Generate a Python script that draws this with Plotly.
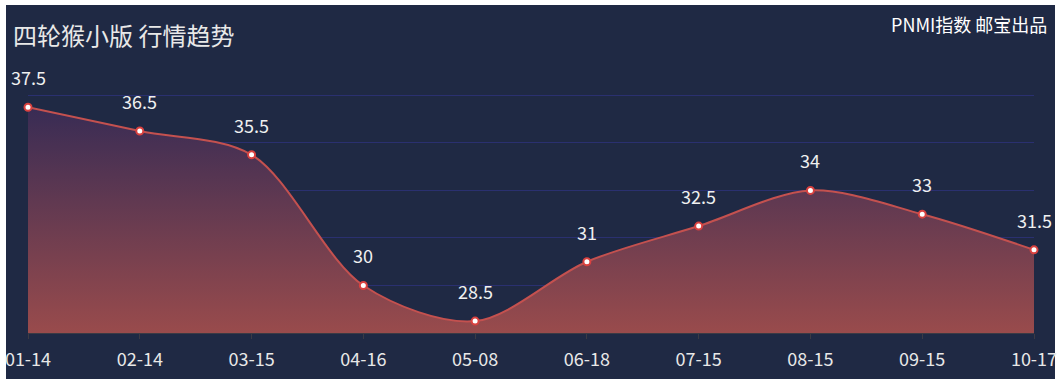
import plotly.graph_objects as go

categories = ["01-14", "02-14", "03-15", "04-16", "05-08", "06-18", "07-15", "08-15", "09-15", "10-17"]
values = [37.5, 36.5, 35.5, 30, 28.5, 31, 32.5, 34, 33, 31.5]
y_min, y_max = 28, 38

W, H = 1062, 385
L, R, T, B = 28, 28, 93, 52
pw, ph = W - L - R, H - T - B

def px_x(x):
    return (x - L) / pw

def px_y(y):
    return (H - B - y) / ph

FONT = "Noto Sans CJK SC, Microsoft YaHei, sans-serif"
BG = "#1f2944"

fig = go.Figure()
fig.add_trace(go.Scatter(x=categories, y=[y_min] * len(categories), mode="lines",
                         line=dict(width=0), hoverinfo="skip", showlegend=False))
fig.add_trace(go.Scatter(
    x=categories, y=values, mode="lines+markers",
    line=dict(color="#c4514f", width=2, shape="spline", smoothing=0.9),
    marker=dict(size=7, color="white", line=dict(color="#d9413f", width=2)),
    fill="tonexty",
    fillgradient=dict(type="vertical", start=y_min, stop=y_max,
                      colorscale=[[0, "#994b4c"], [1, "#332a55"]]),
    showlegend=False, cliponaxis=False,
))

for c, v in zip(categories, values):
    fig.add_annotation(x=c, y=v, text=f"{v:g}", showarrow=False, yshift=30,
                       font=dict(family=FONT, size=18, color="#f0f0f0"))

fig.add_shape(type="rect", xref="paper", yref="paper",
              x0=px_x(6), x1=px_x(1055), y0=px_y(5), y1=px_y(379),
              fillcolor=BG, line=dict(width=0), layer="below")

fig.add_annotation(xref="paper", yref="paper", x=px_x(11), y=px_y(35), xanchor="left", yanchor="middle",
                   text="四轮猴小版 行情趋势", showarrow=False,
                   font=dict(family=FONT, size=24, color="#e8e8e8"))
fig.add_annotation(xref="paper", yref="paper", x=px_x(1049), y=px_y(24), xanchor="right", yanchor="middle",
                   text="PNMI指数 邮宝出品", showarrow=False,
                   font=dict(family=FONT, size=18, color="#ffffff"))

fig.update_layout(
    width=W, height=H, margin=dict(l=L, r=R, t=T, b=B, autoexpand=False),
    paper_bgcolor="white", plot_bgcolor="rgba(0,0,0,0)",
    font=dict(family=FONT),
)
fig.update_xaxes(type="category", automargin=False, showgrid=False, showline=True,
                 linecolor="#3b3a44", linewidth=1,
                 ticks="outside", ticklen=5, tickcolor="#3b3a44", ticklabelstandoff=5,
                 tickfont=dict(family=FONT, size=18, color="#e8e8e8"),
                 range=[0, len(categories) - 1], fixedrange=True, zeroline=False)
fig.update_yaxes(range=[y_min, y_max + 0.1], tick0=y_min, dtick=2, automargin=False,
                 showticklabels=False, showgrid=True,
                 gridcolor="#2a3070", gridwidth=1, zeroline=False, showline=False, fixedrange=True)

fig.write_html(
    "out.html",
    config={"displayModeBar": False},
    post_script=(
        "document.documentElement.style.overflow='hidden';"
        "document.body.style.margin='0';document.body.style.overflow='hidden';"
    ),
)
